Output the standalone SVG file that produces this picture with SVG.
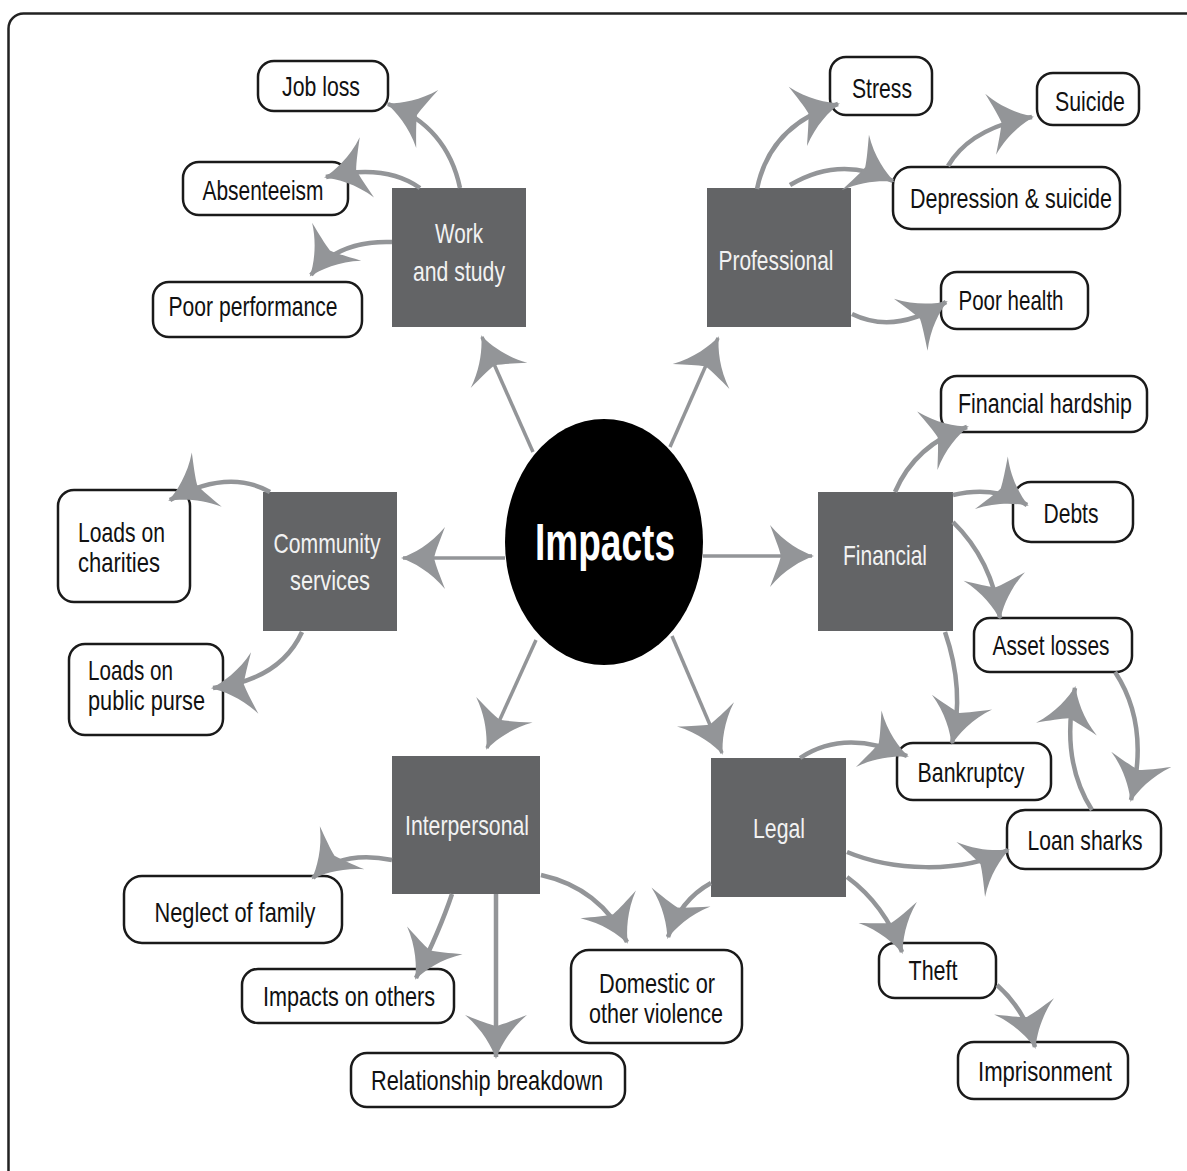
<svg xmlns="http://www.w3.org/2000/svg" width="1187" height="1171" viewBox="0 0 1187 1171">
<style>
text{font-family:"Liberation Sans",Arial,sans-serif;font-size:28px;fill:#111}
.cat rect{fill:#636466}
.cat text{fill:#f2f2f2;text-anchor:middle}
.leaf rect{fill:#fff;stroke:#1a1a1a;stroke-width:2.5}
.leaf text{text-anchor:middle}
.leaf text.l{text-anchor:start}
.c path{fill:none;stroke:#939598;stroke-width:4.5;marker-end:url(#ah)}
.c path.s{stroke-width:3.5}
</style>
<defs>
<marker id="ah" viewBox="-46 -34 50 68" refX="0" refY="0" markerWidth="50" markerHeight="68" markerUnits="userSpaceOnUse" orient="auto">
<path d="M2,0 C-10,-4 -28,-14 -42,-31 C-37,-18 -33,-8 -31,0 C-33,8 -37,18 -42,31 C-28,14 -10,4 2,0 Z" fill="#939598"/>
</marker>
</defs>
<rect x="8.5" y="13.5" width="1210" height="1200" rx="15" fill="#fff" stroke="#222" stroke-width="2.5"/>

<g id="impacts">
<ellipse cx="604" cy="542" rx="99" ry="123" fill="#000"/>
<text x="605" y="560" text-anchor="middle" style="font-size:51px;font-weight:bold;fill:#fff" textLength="140" lengthAdjust="spacingAndGlyphs">Impacts</text>
</g>

<g id="work" class="cat"><rect x="392" y="188" width="134" height="139"/>
<text x="459" y="243" textLength="48" lengthAdjust="spacingAndGlyphs">Work</text>
<text x="459" y="281" textLength="92" lengthAdjust="spacingAndGlyphs">and study</text></g>
<g id="professional" class="cat"><rect x="707" y="188" width="144" height="139"/>
<text x="776" y="270" textLength="115" lengthAdjust="spacingAndGlyphs">Professional</text></g>
<g id="community" class="cat"><rect x="263" y="492" width="134" height="139"/>
<text x="327" y="553" textLength="107" lengthAdjust="spacingAndGlyphs">Community</text>
<text x="330" y="590" textLength="80" lengthAdjust="spacingAndGlyphs">services</text></g>
<g id="financial" class="cat"><rect x="818" y="492" width="135" height="139"/>
<text x="885" y="565" textLength="84" lengthAdjust="spacingAndGlyphs">Financial</text></g>
<g id="interpersonal" class="cat"><rect x="392" y="756" width="148" height="138"/>
<text x="467" y="835" textLength="124" lengthAdjust="spacingAndGlyphs">Interpersonal</text></g>
<g id="legal" class="cat"><rect x="711" y="758" width="135" height="139"/>
<text x="779" y="838" textLength="52" lengthAdjust="spacingAndGlyphs">Legal</text></g>

<g id="jobloss" class="leaf"><rect x="258" y="61" width="130" height="50" rx="16"/><text x="321" y="96" textLength="78" lengthAdjust="spacingAndGlyphs">Job loss</text></g>
<g id="absenteeism" class="leaf"><rect x="183" y="162" width="165" height="53" rx="16"/><text x="263" y="200" textLength="121" lengthAdjust="spacingAndGlyphs">Absenteeism</text></g>
<g id="poorperformance" class="leaf"><rect x="153" y="282" width="209" height="55" rx="16"/><text x="253" y="316" textLength="169" lengthAdjust="spacingAndGlyphs">Poor performance</text></g>
<g id="stress" class="leaf"><rect x="830" y="57" width="102" height="58" rx="16"/><text x="882" y="98" textLength="60" lengthAdjust="spacingAndGlyphs">Stress</text></g>
<g id="suicide" class="leaf"><rect x="1037" y="73" width="102" height="52" rx="16"/><text x="1090" y="111" textLength="70" lengthAdjust="spacingAndGlyphs">Suicide</text></g>
<g id="depression" class="leaf"><rect x="893" y="167" width="227" height="62" rx="18"/><text x="1011" y="208" textLength="202" lengthAdjust="spacingAndGlyphs">Depression &amp; suicide</text></g>
<g id="poorhealth" class="leaf"><rect x="941" y="272" width="147" height="57" rx="16"/><text x="1011" y="310" textLength="105" lengthAdjust="spacingAndGlyphs">Poor health</text></g>
<g id="charities" class="leaf"><rect x="58" y="490" width="132" height="112" rx="16"/><text class="l" x="78" y="542" textLength="87" lengthAdjust="spacingAndGlyphs">Loads on</text><text class="l" x="78" y="572" textLength="82" lengthAdjust="spacingAndGlyphs">charities</text></g>
<g id="publicpurse" class="leaf"><rect x="69" y="644" width="154" height="91" rx="16"/><text class="l" x="88" y="680" textLength="85" lengthAdjust="spacingAndGlyphs">Loads on</text><text class="l" x="88" y="710" textLength="117" lengthAdjust="spacingAndGlyphs">public purse</text></g>
<g id="hardship" class="leaf"><rect x="941" y="376" width="206" height="56" rx="16"/><text x="1045" y="413" textLength="174" lengthAdjust="spacingAndGlyphs">Financial hardship</text></g>
<g id="debts" class="leaf"><rect x="1013" y="482" width="120" height="60" rx="18"/><text x="1071" y="523" textLength="55" lengthAdjust="spacingAndGlyphs">Debts</text></g>
<g id="assetlosses" class="leaf"><rect x="974" y="618" width="158" height="54" rx="16"/><text x="1051" y="655" textLength="117" lengthAdjust="spacingAndGlyphs">Asset losses</text></g>
<g id="bankruptcy" class="leaf"><rect x="897" y="743" width="154" height="57" rx="16"/><text x="971" y="782" textLength="107" lengthAdjust="spacingAndGlyphs">Bankruptcy</text></g>
<g id="loansharks" class="leaf"><rect x="1007" y="810" width="154" height="59" rx="18"/><text x="1085" y="850" textLength="115" lengthAdjust="spacingAndGlyphs">Loan sharks</text></g>
<g id="neglect" class="leaf"><rect x="124" y="876" width="218" height="67" rx="18"/><text x="235" y="922" textLength="161" lengthAdjust="spacingAndGlyphs">Neglect of family</text></g>
<g id="impactsothers" class="leaf"><rect x="242" y="969" width="212" height="54" rx="16"/><text x="349" y="1006" textLength="172" lengthAdjust="spacingAndGlyphs">Impacts on others</text></g>
<g id="relationship" class="leaf"><rect x="351" y="1053" width="274" height="54" rx="16"/><text x="487" y="1090" textLength="232" lengthAdjust="spacingAndGlyphs">Relationship breakdown</text></g>
<g id="domestic" class="leaf"><rect x="571" y="950" width="171" height="93" rx="18"/><text x="657" y="993" textLength="116" lengthAdjust="spacingAndGlyphs">Domestic or</text><text x="656" y="1023" textLength="134" lengthAdjust="spacingAndGlyphs">other violence</text></g>
<g id="theft" class="leaf"><rect x="879" y="943" width="117" height="55" rx="16"/><text x="933" y="980" textLength="49" lengthAdjust="spacingAndGlyphs">Theft</text></g>
<g id="imprisonment" class="leaf"><rect x="958" y="1042" width="170" height="57" rx="16"/><text x="1045" y="1081" textLength="134" lengthAdjust="spacingAndGlyphs">Imprisonment</text></g>

<g id="connectors" class="c">
<path class="s" d="M533,452 L482,337"/>
<path class="s" d="M670,447 L718,338"/>
<path class="s" d="M505,558 L403,558"/>
<path class="s" d="M703,556 L812,556"/>
<path class="s" d="M536,640 L487,748"/>
<path class="s" d="M672,636 L722,753"/>
<path d="M460,188 C452,150 430,120 388,104"/>
<path d="M420,188 Q385,163 326,177"/>
<path d="M392,242 Q338,240 311,275"/>
<path d="M757,189 Q770,125 838,104"/>
<path d="M790,185 Q840,155 893,181"/>
<path d="M948,166 Q970,128 1032,117"/>
<path d="M852,314 Q895,335 946,302"/>
<path d="M270,492 Q228,468 170,500"/>
<path d="M302,632 Q280,680 213,688"/>
<path d="M895,492 Q915,445 967,427"/>
<path d="M953,495 Q995,485 1027,505"/>
<path d="M953,522 Q992,560 1000,618"/>
<path d="M945,632 Q965,690 952,743"/>
<path d="M1115,672 Q1150,725 1131,800"/>
<path d="M1092,810 Q1060,760 1075,688"/>
<path d="M800,758 Q845,728 907,756"/>
<path d="M847,852 C890,870 960,875 1008,850"/>
<path d="M847,877 Q885,905 902,952"/>
<path d="M711,883 Q680,900 668,937"/>
<path d="M997,985 Q1025,1010 1035,1047"/>
<path d="M392,860 Q340,850 313,878"/>
<path d="M452,894 Q440,930 416,978"/>
<path d="M496,894 L496,1057"/>
<path d="M541,875 Q600,888 627,942"/>
</g>
</svg>
